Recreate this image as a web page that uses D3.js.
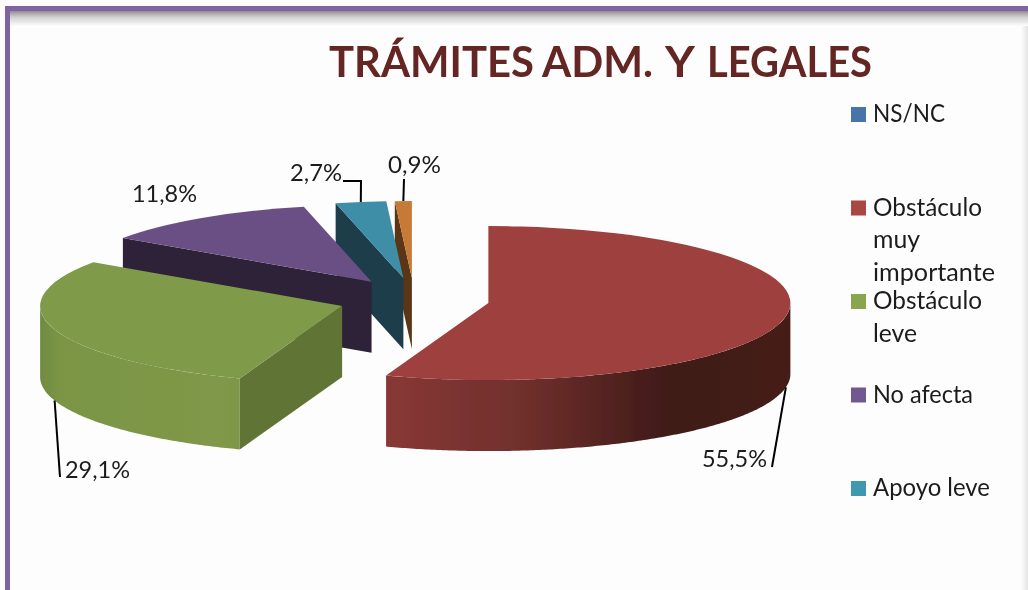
<!DOCTYPE html>
<html>
<head>
<meta charset="utf-8">
<script src="https://cdn.jsdelivr.net/npm/d3@7"></script>
<style>
html, body { margin: 0; padding: 0; background: #fdfdfd; overflow: hidden; }
text { font-family: Lato, "Open Sans", sans-serif; fill: #1c1c1c; }
</style>
</head>
<body>
<svg id="chart" width="1028" height="590"></svg>
<script>
var titleWords = ["TRÁMITES", "ADM.", "Y", "LEGALES"];
var categories = ["NS/NC", "Obstáculo muy importante", "Obstáculo leve", "No afecta", "Apoyo leve"];
var legendLines = [["NS/NC"], ["Obstáculo", "muy", "importante"], ["Obstáculo", "leve"], ["No afecta"], ["Apoyo leve"]];
var values = [0, 55.5, 29.1, 11.8, 2.7, 0.9];
var valueLabels = ["", "55,5%", "29,1%", "11,8%", "2,7%", "0,9%"];
var topColors = ["#4674aa", "#9e3f3d", "#7f9a48", "#6b5085", "#3e8ea6", "#c77a35"];
var legendColors = ["#4674aa", "#aa4643", "#89a54e", "#71588f", "#4198af"];
var faceColors = ["#2a4566", "#85352f", "#617534", "#2e2339", "#1b3c4a", "#5a3518"];

var svg = d3.select("#chart");
var defs = svg.append("defs");

// the reference is a soft upscaled bitmap
defs.append("filter").attr("id", "soft")
	.attr("filterUnits", "userSpaceOnUse")
	.attr("x", 0).attr("y", 0)
	.attr("width", 1028).attr("height", 590)
	.append("feGaussianBlur").attr("stdDeviation", 0.5);

var root = svg.append("g").attr("filter", "url(#soft)");
root.append("rect").attr("width", 1028).attr("height", 590).attr("fill", "#fdfdfd");

// pie geometry
var cx = 414, cy = 299.4, rx = 302, ry = 77, depth = 71;
var explodeX = 0.25, explodeY = 0.278;

var slices = d3.pie().sort(null).value(function (d) { return d; })(values);
var arc = d3.arc().innerRadius(0).outerRadius(rx);

slices.forEach(function (s, i) {
	var mid = (s.startAngle + s.endAngle) / 2;
	s.index = i;
	s.mid = mid;
	s.cx = cx + explodeX * rx * Math.sin(mid);
	s.cy = cy - explodeY * ry * Math.cos(mid);
});

function px(s, a) { return s.cx + rx * Math.sin(a); }
function py(s, a) { return s.cy - ry * Math.cos(a); }

// frame and the shadows along it
var shadow = defs.append("linearGradient").attr("id", "shadow").attr("x1", 0).attr("y1", 0).attr("x2", 0).attr("y2", 1);
shadow.append("stop").attr("offset", 0).attr("stop-color", "#8f8f8f");
shadow.append("stop").attr("offset", 0.4).attr("stop-color", "#d0d0d0");
shadow.append("stop").attr("offset", 1).attr("stop-color", "#fdfdfd");
var shadowRight = defs.append("linearGradient").attr("id", "shadowRight");
shadowRight.append("stop").attr("offset", 0).attr("stop-color", "#fdfdfd");
shadowRight.append("stop").attr("offset", 1).attr("stop-color", "#e4e4e4");

root.append("rect").attr("x", 1021).attr("y", 11).attr("width", 7).attr("height", 579).attr("fill", "url(#shadowRight)");
root.append("rect").attr("x", 10).attr("y", 11).attr("width", 1018).attr("height", 15).attr("fill", "url(#shadow)");
root.append("rect").attr("x", 5).attr("y", 6).attr("width", 1023).attr("height", 5).attr("fill", "#8064a2");
root.append("rect").attr("x", 5).attr("y", 6).attr("width", 5).attr("height", 584).attr("fill", "#8064a2");

// title, word by word because its spacing is uneven
var titleX = [329, 542, 665, 707];
var titleW = [205, 111, 28, 165];
var titleText = root.append("text")
	.attr("y", 77)
	.attr("font-size", 42)
	.attr("font-weight", 700)
	.style("fill", "#632523");
titleWords.forEach(function (w, i) {
	titleText.append("tspan")
		.attr("x", titleX[i])
		.attr("textLength", titleW[i])
		.attr("lengthAdjust", "spacingAndGlyphs")
		.text(w);
	if (i < titleWords.length - 1) titleText.node().appendChild(document.createTextNode(" "));
});

// gradients on the curved walls
var wallStops = {
	1: [["0", "#883835"], ["0.35", "#6f2f2c"], ["0.7", "#3f1a18"], ["1", "#451b19"]],
	2: [["0", "#708a41"], ["0.06", "#7b9545"], ["0.6", "#7f9848"], ["1", "#738c42"]]
};
Object.keys(wallStops).forEach(function (k) {
	var s = slices[k];
	var a1 = Math.max(s.startAngle, Math.PI / 2), a2 = Math.min(s.endAngle, Math.PI * 1.5);
	var xs = [px(s, a1), px(s, a2), px(s, Math.PI)];
	var g = defs.append("linearGradient").attr("id", "wall" + k)
		.attr("gradientUnits", "userSpaceOnUse")
		.attr("x1", d3.min(xs)).attr("y1", 0).attr("x2", d3.max(xs)).attr("y2", 0);
	g.selectAll("stop").data(wallStops[k]).join("stop")
		.attr("offset", function (d) { return d[0]; })
		.attr("stop-color", function (d) { return d[1]; });
});

var line = d3.line();

function radialWall(g, s, a) {
	var p = [[s.cx, s.cy], [px(s, a), py(s, a)], [px(s, a), py(s, a) + depth], [s.cx, s.cy + depth]];
	g.append("path").attr("d", line(p) + "Z").attr("fill", faceColors[s.index]);
}

function curvedWall(g, s) {
	var a1 = Math.max(s.startAngle, Math.PI / 2), a2 = Math.min(s.endAngle, Math.PI * 1.5);
	if (a2 <= a1) return;
	var angles = d3.range(a1, a2, 0.01).concat([a2]);
	var top = angles.map(function (a) { return [px(s, a), py(s, a)]; });
	var bottom = angles.slice().reverse().map(function (a) { return [px(s, a), py(s, a) + depth]; });
	g.append("path").attr("d", line(top.concat(bottom)) + "Z").attr("fill", "url(#wall" + s.index + ")");
}

// painter's order, back slices first
var drawOrder = [5, 4, 3, 2, 1];
var pie = root.append("g");
drawOrder.forEach(function (i) {
	var s = slices[i], g = pie.append("g");
	// the red slice shows no flat wall, the others show the one at their start angle
	if (i >= 2) radialWall(g, s, s.startAngle);
	curvedWall(g, s);
	g.append("path")
		.attr("transform", "translate(" + s.cx + "," + s.cy + ") scale(1," + (ry / rx) + ")")
		.attr("d", arc(s))
		.attr("fill", topColors[i]);
});

// value labels and leaders
var labelAnchors = [null, [767, 467, "end"], [65, 478, "start"], [132, 202, "start"], [290, 181, "start"], [388, 173, "start"]];
var leaderEnds = [null, [[772, 467]], [[60, 477]], null, [[343, 181], [361, 181]], [[404, 179]]];
var labelWidths = [0, 65, 65, 65, 52, 53];

slices.forEach(function (s, i) {
	if (!values[i]) return;
	var a = labelAnchors[i];
	root.append("text")
		.attr("x", a[0]).attr("y", a[1])
		.attr("text-anchor", a[2])
		.attr("font-size", 24)
		.attr("textLength", labelWidths[i])
		.attr("lengthAdjust", "spacingAndGlyphs")
		.text(valueLabels[i]);
	if (leaderEnds[i]) {
		var onFront = i < 3;
		var start = [px(s, s.mid), py(s, s.mid) + (onFront ? depth : 0)];
		root.append("path")
			.attr("d", line([start].concat(leaderEnds[i].slice().reverse())))
			.attr("fill", "none")
			.attr("stroke", "#000")
			.attr("stroke-width", 2);
	}
});

// legend
var legendWidths = [[72], [109, 47, 122], [109, 44], [100], [117]];
var legendY = d3.scaleLinear().domain([0, 1]).range([107, 200.5]);
var legend = root.append("g");
categories.forEach(function (c, i) {
	var y = legendY(i);
	legend.append("rect")
		.attr("x", 851).attr("y", y)
		.attr("width", 15).attr("height", 15)
		.attr("fill", legendColors[i]);
	legendLines[i].forEach(function (t, j) {
		legend.append("text")
			.attr("x", 873)
			.attr("y", y + 15 + j * 32.5)
			.attr("font-size", 25)
			.attr("textLength", legendWidths[i][j])
			.attr("lengthAdjust", "spacingAndGlyphs")
			.text(t);
	});
});
</script>
</body>
</html>
